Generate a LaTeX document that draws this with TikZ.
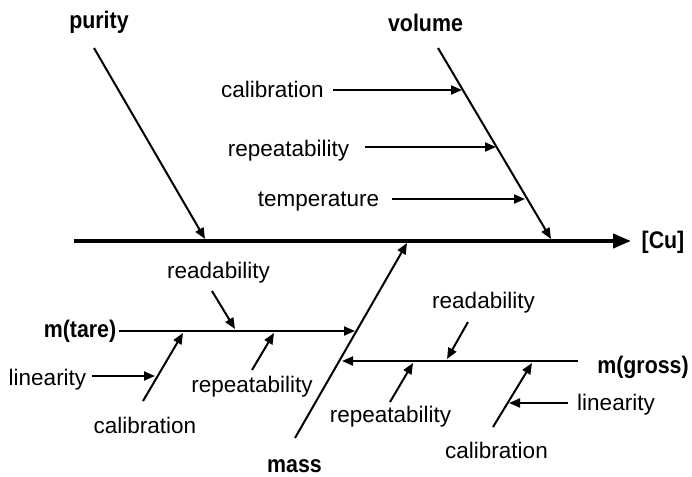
\documentclass[tikz,border=0pt]{standalone}
\usepackage{fontspec}
\usepackage{graphicx}
\setmainfont{Liberation Sans}
\usetikzlibrary{arrows.meta}
\newcommand{\narrowbf}[1]{\scalebox{0.89}[1]{\bfseries #1}}
\begin{document}
\begin{tikzpicture}[x=1pt,y=-1pt,
  lbl/.style={anchor=base,inner sep=0pt,font=\fontsize{22.5}{26}\selectfont},
  blbl/.style={anchor=base,inner sep=0pt,font=\fontsize{24}{28}\selectfont},
  spine/.style={line width=4pt,-{Triangle[length=18pt,width=14pt]}},
  bone/.style={line width=2pt,-{Triangle[length=11pt,width=9pt]}}]
\useasboundingbox (0,0) rectangle (692,476);
% labels
\node[blbl] (purity) at (99,29) {\narrowbf{purity}};
\node[blbl] (volume) at (425.5,32) {\narrowbf{volume}};
\node[blbl] (cu) at (663,248) {\narrowbf{[Cu]}};
\node[blbl] (mtare) at (80,337) {\narrowbf{m(tare)}};
\node[blbl] (mgross) at (643,373) {\narrowbf{m(gross)}};
\node[blbl] (mass) at (294.5,472) {\narrowbf{mass}};
\node[lbl] (vcal) at (272.5,97) {calibration};
\node[lbl] (vrep) at (288.5,156) {repeatability};
\node[lbl] (vtemp) at (318.5,206) {temperature};
\node[lbl] (tread) at (218.5,278) {readability};
\node[lbl] (tlin) at (47.5,385) {linearity};
\node[lbl] (trep) at (252,392) {repeatability};
\node[lbl] (tcal) at (145,433) {calibration};
\node[lbl] (gread) at (483.5,308) {readability};
\node[lbl] (grep) at (390.5,422) {repeatability};
\node[lbl] (glin) at (616,410) {linearity};
\node[lbl] (gcal) at (496.5,458) {calibration};
% coordinates
\coordinate (s0) at (74,241);
\coordinate (s1) at (631,241);
\coordinate (p0) at (94,48);
\coordinate (p1) at (205,239);
\coordinate (v0) at (438,48);
\coordinate (v1) at (551,239);
\coordinate (vc0) at (333,90);
\coordinate (vc1) at (462,90);
\coordinate (vr0) at (365,147);
\coordinate (vr1) at (496,147);
\coordinate (vt0) at (392,199);
\coordinate (vt1) at (525,199);
\coordinate (m0) at (295,438);
\coordinate (m1) at (407,243);
\coordinate (mt0) at (119,331);
\coordinate (mt1) at (355,331);
\coordinate (tr0) at (212,291);
\coordinate (tr1) at (235,329);
\coordinate (tp0) at (252,370);
\coordinate (tp1) at (274,333);
\coordinate (tc0) at (143,401);
\coordinate (tc1) at (183,333);
\coordinate (tl0) at (92,376);
\coordinate (tl1) at (155,376);
\coordinate (mg0) at (578,361);
\coordinate (mg1) at (342,361);
\coordinate (gr0) at (468,322);
\coordinate (gr1) at (447,359);
\coordinate (gp0) at (390,402);
\coordinate (gp1) at (413,363);
\coordinate (gc0) at (493,427);
\coordinate (gc1) at (532,363);
\coordinate (gl0) at (568,403);
\coordinate (gl1) at (509,403);
% connectors
\draw[spine] (s0) -- (s1);
\draw[bone] (p0) -- (p1);
\draw[bone] (v0) -- (v1);
\draw[bone] (vc0) -- (vc1);
\draw[bone] (vr0) -- (vr1);
\draw[bone] (vt0) -- (vt1);
\draw[bone] (m0) -- (m1);
\draw[bone] (mt0) -- (mt1);
\draw[bone] (tr0) -- (tr1);
\draw[bone] (tp0) -- (tp1);
\draw[bone] (tc0) -- (tc1);
\draw[bone] (tl0) -- (tl1);
\draw[bone] (mg0) -- (mg1);
\draw[bone] (gr0) -- (gr1);
\draw[bone] (gp0) -- (gp1);
\draw[bone] (gc0) -- (gc1);
\draw[bone] (gl0) -- (gl1);
\end{tikzpicture}
\end{document}
